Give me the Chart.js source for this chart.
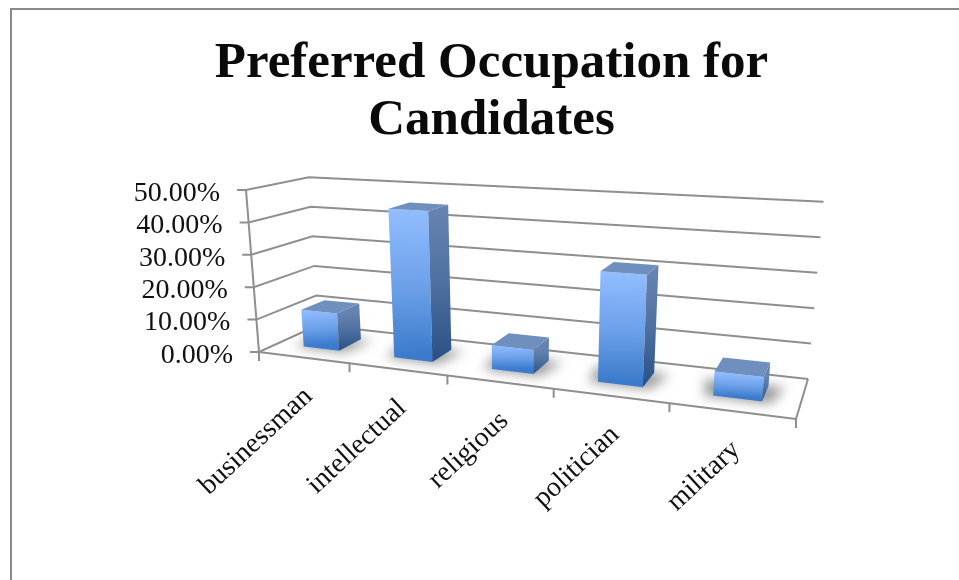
<!DOCTYPE html>
<html>
<head>
<meta charset="utf-8">
<style>html,body{margin:0;padding:0;background:#fff}canvas{display:block}</style>
<script src="https://cdn.jsdelivr.net/npm/chart.js@4"></script>
</head>
<body>
<canvas id="c" width="959" height="580"></canvas>
<script>
// ---------- data ----------
const categories = ['businessman', 'intellectual', 'religious', 'politician', 'military'];
const shares = [0.115, 0.45, 0.07, 0.31, 0.065];
const titleLines = ['Preferred Occupation for', 'Candidates'];

// ---------- view of the 3D box (screen position of its corners) ----------
const floorQuad = [[259, 352], [796, 419], [808, 379], [318, 325]];
const roofCorner = [246, 190];
const verticalPerspective = -0.047;
const depthFrom = 0.3, depthTo = 0.7;

function quadCoeffs(q) {
  const [p0, p1, p2, p3] = q;
  const dx1 = p1[0]-p2[0], dx2 = p3[0]-p2[0], sx = p0[0]-p1[0]+p2[0]-p3[0];
  const dy1 = p1[1]-p2[1], dy2 = p3[1]-p2[1], sy = p0[1]-p1[1]+p2[1]-p3[1];
  const den = dx1*dy2 - dx2*dy1;
  const g = (sx*dy2 - dx2*sy)/den, h = (dx1*sy - sx*dy1)/den;
  return {g, h, o: p0,
    a: p1[0]-p0[0]+g*p1[0], b: p3[0]-p0[0]+h*p3[0],
    d: p1[1]-p0[1]+g*p1[1], e: p3[1]-p0[1]+h*p3[1]};
}
const Q = quadCoeffs(floorQuad);
const K = verticalPerspective;
const CX = (1+K)*roofCorner[0] - Q.o[0], CY = (1+K)*roofCorner[1] - Q.o[1];
function project(u, v, h) {
  const w = Q.g*u + Q.h*v + 1;
  const nx = Q.a*u + Q.b*v + Q.o[0], ny = Q.d*u + Q.e*v + Q.o[1];
  const fx = nx/w, fy = ny/w;
  const rx = (nx + CX)/(w + K), ry = (ny + CY)/(w + K);
  return [fx + (rx-fx)*h, fy + (ry-fy)*h];
}
function poly(ctx, pts) {
  ctx.beginPath();
  pts.forEach((p, i) => i ? ctx.lineTo(p[0], p[1]) : ctx.moveTo(p[0], p[1]));
  ctx.closePath();
}
function vGrad(ctx, from, to, stops) {
  const g = ctx.createLinearGradient(from[0], from[1], to[0], to[1]);
  stops.forEach(s => g.addColorStop(s[0], s[1]));
  return g;
}

let chart3d = null;

// ---------- a bar element that draws itself as a box ----------
class Box3DElement extends Chart.BarElement {
  static id = 'box3d';
  draw(ctx) {
    const area = chart3d.chartArea;
    const {x, y, base, width} = this.getProps(['x', 'y', 'base', 'width']);
    const u0 = (x - width/2 - area.left)/area.width;
    const u1 = (x + width/2 - area.left)/area.width;
    const h  = (base - y)/area.height;
    const v0 = depthFrom, v1 = depthTo;
    ctx.save();
    // soft shadow on the floor
    ctx.filter = 'blur(6px)';
    ctx.fillStyle = 'rgba(40,40,40,0.48)';
    const du = 0.014, dv = 0.03;
    poly(ctx, [project(u0-du, v0-dv, 0), project(u1+du, v0-dv, 0), project(u1+du*2, v1, 0), project(u0-du*2, v1, 0)]);
    ctx.fill();
    ctx.filter = 'none';
    // front
    const fTop = project(u0, v0, h), fBot = project(u0, v0, 0);
    ctx.fillStyle = vGrad(ctx, fTop, fBot, [[0, '#92BEFF'], [0.55, '#6A9FE8'], [1, '#3B7BCB']]);
    poly(ctx, [fBot, project(u1, v0, 0), project(u1, v0, h), fTop]);
    ctx.fill();
    // right side
    const sTop = project(u1, v0, h), sBot = project(u1, v0, 0);
    ctx.fillStyle = vGrad(ctx, sTop, sBot, [[0, '#6683B0'], [0.5, '#4D6F9F'], [1, '#285086']]);
    poly(ctx, [sBot, project(u1, v1, 0), project(u1, v1, h), sTop]);
    ctx.fill();
    // top
    ctx.fillStyle = '#6F8FBF';
    poly(ctx, [fTop, sTop, project(u1, v1, h), project(u0, v1, h)]);
    ctx.fill();
    ctx.restore();
  }
}
class Box3DController extends Chart.BarController {
  static id = 'box3d';
  static defaults = {dataElementType: 'box3d'};
}
Chart.register(Box3DElement, Box3DController);

const box3dFrame = {
  id: 'box3dFrame',
  beforeInit(chart) { chart3d = chart; },
  afterLayout(chart) { chart.titleBlock.left = 24; chart.titleBlock.right = 959; },
  beforeDraw(chart) {
    const ctx = chart.ctx, W = chart.width, H = chart.height;
    ctx.save();
    ctx.fillStyle = '#fff';
    ctx.fillRect(0, 0, W, H);
    ctx.strokeStyle = '#8a8a8a';
    ctx.lineWidth = 2;
    ctx.beginPath();
    ctx.moveTo(11, H); ctx.lineTo(11, 9); ctx.lineTo(W, 9);
    ctx.stroke();
    ctx.restore();
    // put the tick labels where the projected axes are
    const ys = chart.scales.y, xs = chart.scales.x;
    ys.getLabelItems(chart.chartArea).forEach((it, i) => {
      const h = (ys.bottom - ys.getPixelForTick(i))/ys.height;
      const p = project(0, 0, h);
      it.options.translation = [p[0] - 26, p[1] + 3.5];
    });
    xs.getLabelItems(chart.chartArea).forEach((it, i) => {
      const u = (xs.getPixelForTick(i) - xs.left)/xs.width;
      const p = project(u, 0, 0);
      it.textOffset = 0;
      it.options.rotation = -43*Math.PI/180;
      it.options.textAlign = 'right';
      it.options.textBaseline = 'middle';
      it.options.translation = [p[0] + 5, p[1] + 35];
    });
  },
  beforeDatasetsDraw(chart) {
    const ctx = chart.ctx, ys = chart.scales.y;
    ctx.save();
    ctx.strokeStyle = '#8f8f8f';
    ctx.lineWidth = 2;
    const seg = (a, b) => { ctx.beginPath(); ctx.moveTo(a[0], a[1]); ctx.lineTo(b[0], b[1]); ctx.stroke(); };
    ys.ticks.forEach((t, i) => {
      const h = (ys.bottom - ys.getPixelForTick(i))/ys.height;
      const a = project(0, 0, h), b = project(0, 1, h), c = project(1, 1, h);
      ctx.beginPath();
      ctx.moveTo(a[0] - 9, a[1]);
      ctx.lineTo(a[0], a[1]); ctx.lineTo(b[0], b[1]); ctx.lineTo(c[0], c[1]);
      ctx.stroke();
    });
    seg(project(0, 0, 0), project(0, 0, 1));
    seg(project(0, 0, 0), project(1, 0, 0));
    seg(project(1, 0, 0), project(1, 1, 0));
    categories.concat(['']).forEach((_, i) => {
      const p = project(i/categories.length, 0, 0);
      seg(p, [p[0], p[1] + 9]);
    });
    ctx.restore();
  }
};

const textColor = '#111';
new Chart(document.getElementById('c'), {
  type: 'box3d',
  data: {
    labels: categories,
    datasets: [{data: shares, barPercentage: 0.4, categoryPercentage: 1, backgroundColor: '#6A9FE8', clip: false}]
  },
  plugins: [box3dFrame],
  options: {
    responsive: false,
    animation: false,
    events: [],
    layout: {padding: {left: 0, right: 163, top: 0, bottom: 0}},
    plugins: {
      legend: {display: false},
      tooltip: {enabled: false},
      title: {
        display: true,
        text: titleLines,
        color: '#0a0a0a',
        font: {family: '"Liberation Serif"', size: 51, weight: 'bold', lineHeight: 1.118},
        padding: {top: 35, bottom: 41}
      }
    },
    scales: {
      x: {
        type: 'category',
        grid: {display: false},
        border: {display: false},
        afterFit(s) { s.height = 228; },
        ticks: {
          autoSkip: false, maxRotation: 45, minRotation: 45,
          color: textColor,
          font: {family: '"Liberation Serif"', size: 28}
        }
      },
      y: {
        type: 'linear',
        min: 0, max: 0.5,
        grid: {display: false},
        border: {display: false},
        afterFit(s) { s.width = 259; },
        ticks: {
          autoSkip: false,
          stepSize: 0.1,
          color: textColor,
          font: {family: '"Liberation Serif"', size: 28},
          callback: v => (v*100).toFixed(2) + '%'
        }
      }
    }
  }
});
</script>
</body>
</html>
